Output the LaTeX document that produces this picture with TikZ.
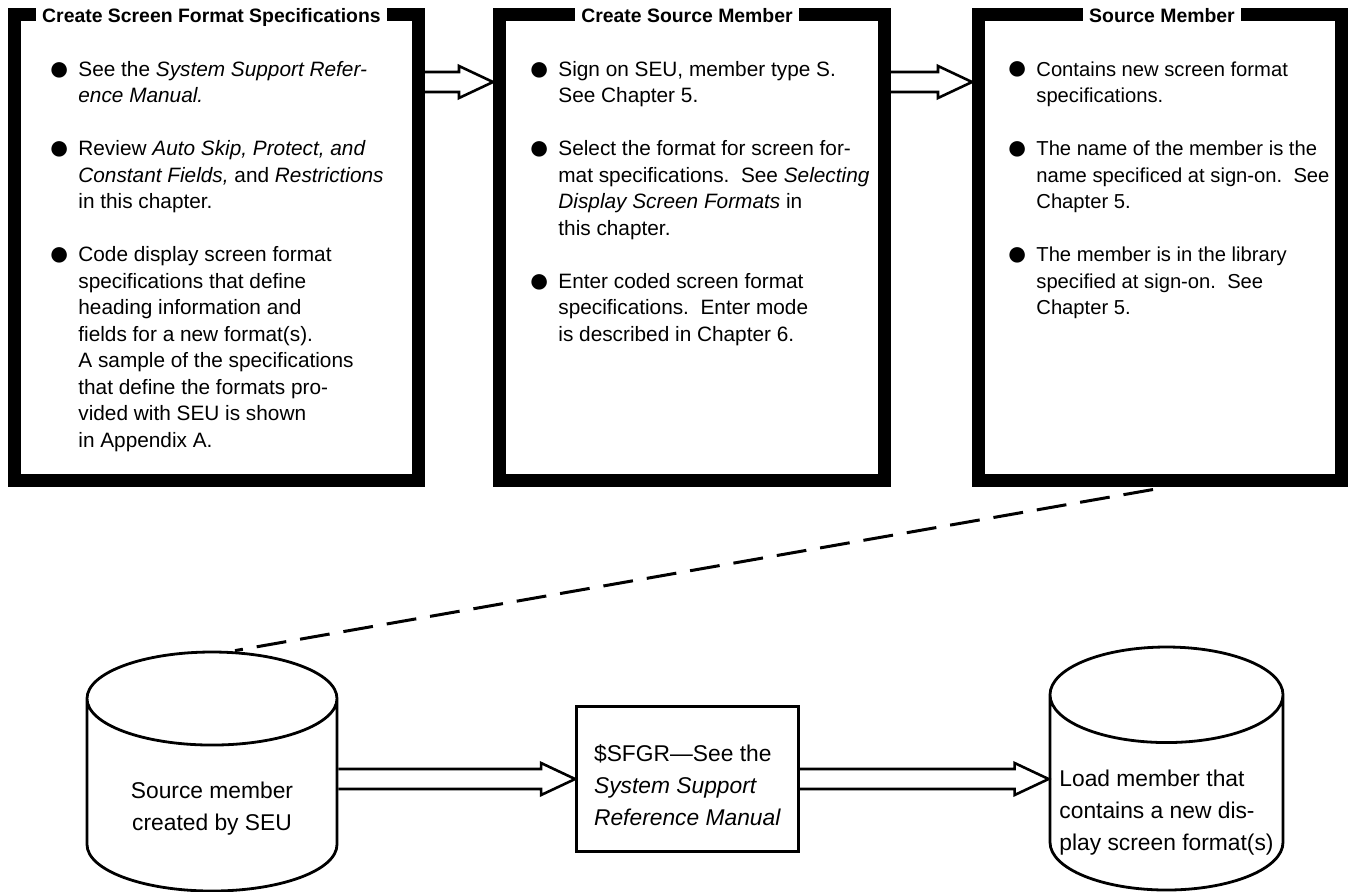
\documentclass[tikz,border=0pt]{standalone}
\usepackage{fontspec}
\setmainfont{Liberation Sans}
\usepackage{tikz}
\usetikzlibrary{positioning, calc, shapes.geometric}
\tikzstyle{frame} =
[
	draw,rectangle,line width=6.5pt,outer sep=0pt,inner sep=0pt,
	minimum height=233pt
]
\tikzstyle{header} =
[
	fill=white,anchor=base,inner xsep=3pt,inner ysep=1pt,
	font=\fontsize{9.7}{12}\selectfont\bfseries
]
\tikzstyle{bullets} =
[
	anchor=north west,inner sep=0pt,align=left,
	font=\fontsize{10.4}{13.25}\selectfont
]
\tikzstyle{drum} =
[
	draw,cylinder,shape border rotate=90,aspect=0.53,line width=1.4pt,
	inner ysep=0pt,anchor=shape center,font=\fontsize{11.4}{16}\selectfont
]
\tikzstyle{prog} =
[
	draw,rectangle,line width=1.4pt,minimum width=111pt,minimum height=72.5pt,
	align=left,font=\fontsize{11.4}{16}\selectfont
]
\tikzstyle{fatarrow} =
[
	line width=1.3pt,line join=miter,
	to path={let \p1=(\tikztostart), \p2=(\tikztotarget) in
		(\x1,\y1+5pt) -- (\x2-17pt,\y1+5pt) -- (\x2-17pt,\y1+8pt) -- (\x2,\y1)
		-- (\x2-17pt,\y1-8pt) -- (\x2-17pt,\y1-5pt) -- (\x1,\y1-5pt)}
]
\tikzstyle{dashline} = [line width=1.5pt,dash pattern=on 15pt off 7pt]
\newcommand{\dotitem}{\makebox[15pt][l]{\raisebox{-1.9pt}{\fontsize{18}{13}\selectfont●}}}
\newcommand{\cont}{\hspace*{15pt}}
\newcommand{\skipline}{\\[13.25pt]}
\begin{document}
\begin{tikzpicture}[x=0.5pt,y=-0.5pt]
\useasboundingbox (0,0) rectangle (1348,891);

\node[frame, minimum width=202pt, anchor=north west] (F1) at (14.5,14.5) {};
\node[frame, minimum width=192.5pt] (F2) [right=40.5pt of F1] {};
\node[frame, minimum width=181.5pt] (F3) [right=47pt of F2] {};

\node[header, xshift=-2.5pt] at ([yshift=-3.75pt]F1.north) {Create Screen Format Specifications};
\node[header, xshift=-2.5pt] at ([yshift=-3.75pt]F2.north) {Create Source Member};
\node[header, xshift=1pt] at ([yshift=-3.75pt]F3.north) {Source Member};

\node[bullets] (L1) at ([shift={(33.5,46.5)}]F1.north west) {%
\dotitem See the \textit{System Support Refer-}\\
\cont\textit{ence Manual.}\skipline
\dotitem Review \textit{Auto Skip, Protect, and}\\
\cont\textit{Constant Fields,} and \textit{Restrictions}\\
\cont in this chapter.\skipline
\dotitem Code display screen format\\
\cont specifications that define\\
\cont heading information and\\
\cont fields for a new format(s).\\
\cont A sample of the specifications\\
\cont that define the formats pro-\\
\cont vided with SEU is shown\\
\cont in Appendix A.};

\node[bullets] (L2) at ([shift={(28.5,46.5)}]F2.north west) {%
\dotitem Sign on SEU, member type S.\\
\cont See Chapter 5.\skipline
\dotitem Select the format for screen for-\\
\cont mat specifications.\ \ See \textit{Selecting}\\
\cont\textit{Display Screen Formats} in\\
\cont this chapter.\skipline
\dotitem Enter coded screen format\\
\cont specifications.\ \ Enter mode\\
\cont is described in Chapter 6.};

\node[bullets, font=\fontsize{10.1}{13.25}\selectfont] (L3) at ([shift={(27.5,46.5)}]F3.north west) {%
\dotitem Contains new screen format\\
\cont specifications.\skipline
\dotitem The name of the member is the\\
\cont name specificed at sign-on.\ \ See\\
\cont Chapter 5.\skipline
\dotitem The member is in the library\\
\cont specified at sign-on.\ \ See\\
\cont Chapter 5.};

\node[prog] (SF) at (687.5,779) {\rule{0pt}{15pt}\$SFGR---See the\\\textit{System Support}\\\textit{Reference Manual}};
\node[drum, align=center, minimum width=125pt, minimum height=119.5pt] (C1) at (212,771.5) {\rule{0pt}{14.3pt}Source member\\created by SEU};
\node[drum, aspect=0.42, align=left, minimum width=116.5pt, minimum height=121.5pt] (C3) at (1166.5,768.5) {\rule{0pt}{20pt}Load member that\\contains a new dis-\\play screen format(s)};

\draw[fatarrow] ([yshift=-33.75pt]F1.north east) to ([shift={(-3.25pt,-33.75pt)}]F2.north west);
\draw[fatarrow] ([yshift=-33.75pt]F2.north east) to ([shift={(-3.25pt,-33.75pt)}]F3.north west);
\draw[fatarrow] (SF.west -| C1.east) to (SF.west);
\draw[fatarrow] (SF.east) to (SF.east -| C3.west);

\draw[dashline] ([shift={(-3.5pt,-4.5pt)}]F3.south) -- ([xshift=11.5pt]C1.north);

\end{tikzpicture}
\end{document}
